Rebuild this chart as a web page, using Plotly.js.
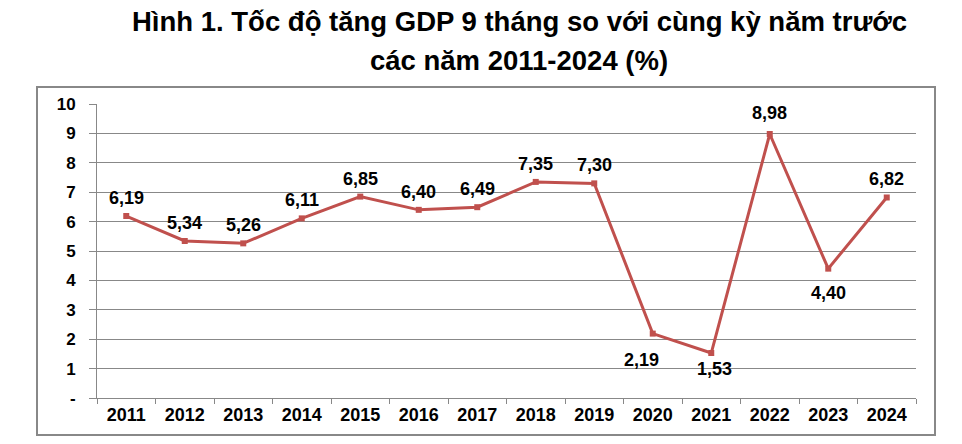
<!DOCTYPE html>
<html><head><meta charset="utf-8">
<script src="https://cdn.plot.ly/plotly-3.0.1.min.js"></script>
<style>html,body{margin:0;padding:0;background:#fff}#chart{width:962px;height:444px}</style>
</head><body><div id="chart"></div>
<script>
const years = ["2011","2012","2013","2014","2015","2016","2017","2018","2019","2020","2021","2022","2023","2024"];
const growth = [6.19,5.34,5.26,6.11,6.85,6.40,6.49,7.35,7.30,2.19,1.53,8.98,4.40,6.82];
const yTickVals = [0,1,2,3,4,5,6,7,8,9,10];
const yTickText = ["-","1","2","3","4","5","6","7","8","9","10"];
const titleLines = ["Hình 1. Tốc độ tăng GDP 9 tháng so với cùng kỳ năm trước", "các năm 2011-2024 (%)"];

// label placement (pixel offsets from each point)
const labelDy = [18,18,18,18,18,18,18,18,18,-26,-16,21,-24,18];
const labelDx = [0,0,0,0,0,0,0,0,0,-11,3,0,0,0];

const W = 962, H = 444, L = 97, R = 46, T = 104, B = 46;
const pw = W - L - R, ph = H - T - B;
const px = v => (v - L) / pw;
const py = v => (H - B - v) / ph;
const FONT = "Liberation Sans, Arial, sans-serif";
const fmt = v => v.toFixed(2).replace(".", ",");

const trace = {
  x: years, y: growth, type: "scatter", mode: "lines+markers",
  line: {color: "#c0504d", width: 3},
  marker: {color: "#c0504d", symbol: "square", size: 6},
  cliponaxis: false, hoverinfo: "skip"
};

const labelAnns = years.map((yr, i) => ({
  x: i, y: growth[i], xref: "x", yref: "y", text: fmt(growth[i]), showarrow: false,
  xanchor: "center", yanchor: "middle", xshift: labelDx[i], yshift: labelDy[i],
  font: {family: FONT, size: 18, color: "#000", weight: "bold"}
}));

const layout = {
  width: W, height: H,
  margin: {l: L, r: R, t: T, b: B},
  paper_bgcolor: "#fff", plot_bgcolor: "#fff",
  showlegend: false,
  annotations: [
    {text: titleLines[0], xref: "paper", yref: "paper", x: px(519), y: py(22), xanchor: "center", yanchor: "middle",
      showarrow: false, font: {family: FONT, size: 27.5, color: "#000", weight: "bold"}},
    {text: titleLines[1], xref: "paper", yref: "paper", x: px(519), y: py(60), xanchor: "center", yanchor: "middle",
      showarrow: false, font: {family: FONT, size: 27.5, color: "#000", weight: "bold"}}
  ].concat(labelAnns),
  xaxis: {type: "category", range: [-0.5, 13.5], tickson: "boundaries", ticks: "outside", ticklen: 5,
    tickcolor: "#888", showline: true, linecolor: "#888", linewidth: 1, showgrid: false, zeroline: false,
    tickfont: {family: FONT, size: 18, color: "#000", weight: "bold"}},
  yaxis: {range: [0, 10], tickvals: yTickVals, ticktext: yTickText, ticks: "outside", ticklen: 7,
    tickcolor: "#888", showline: true, linecolor: "#888", linewidth: 1, showgrid: true, gridcolor: "#888",
    gridwidth: 1, zeroline: false, ticklabelstandoff: 10,
    tickfont: {family: FONT, size: 17, color: "#000", weight: "bold"}},
  shapes: [{type: "rect", xref: "paper", yref: "paper", x0: px(37), x1: px(935), y0: py(435), y1: py(87),
    line: {color: "#888", width: 2}, fillcolor: "rgba(0,0,0,0)", layer: "below"}]
};

Plotly.newPlot("chart", [trace], layout, {displayModeBar: false, staticPlot: true});
</script></body></html>
